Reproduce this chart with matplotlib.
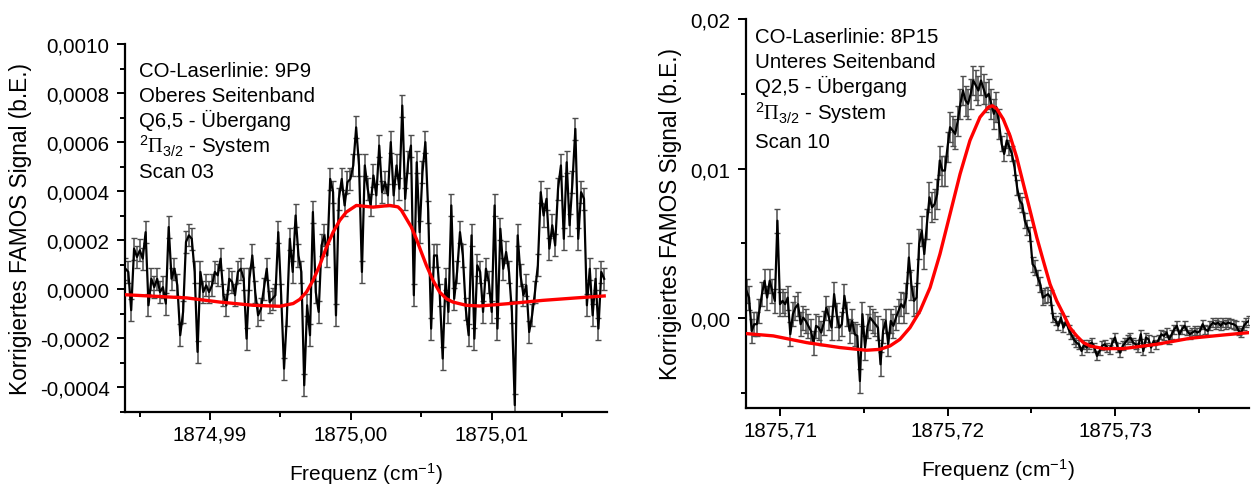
# FAMOS-Signal zweier Scans mit Fit
import numpy as np
import matplotlib
matplotlib.use('Agg')
import matplotlib.pyplot as plt
from matplotlib.ticker import MultipleLocator, FuncFormatter

plt.rcParams['font.family'] = ['Liberation Sans', 'DejaVu Sans']
plt.rcParams['mathtext.fontset'] = 'custom'
plt.rcParams['mathtext.rm'] = 'Liberation Sans'
plt.rcParams['mathtext.it'] = 'Liberation Sans:italic'
plt.rcParams['mathtext.sf'] = 'Liberation Serif'

# --- Scan 03 (links), Signal in Einheiten von 1e-4 ---
freq_left_range = (1874.9840, 1875.0180)
signal_left_e4 = [
    0.84, 0.71, -0.85, 1.66, 1.32, 1.59, 1.25, 2.33, -0.65, 0.43,
    0.09, 0.43, -0.11, 0.09, -0.58, 2.54, 0.43, 0.84, 0.16, -1.87,
    -0.92, 1.93, 2.20, 2.06, 0.71, -2.55, 0.71, -0.11, 0.16, -0.11,
    0.16, 0.71, 0.57, 1.25, -0.24, -0.65, 0.43, 0.30, -0.24, 0.71,
    0.84, 0.43, -2.01, 0.43, 1.38, -0.11, -1.06, -0.79, 0.03, 0.84,
    -0.52, -0.38, -0.24, 2.33, -0.24, -3.23, -1.06, 2.06, 0.71, 3.01,
    1.38, 0.71, -3.91, -0.65, -1.87, 3.15, -0.11, -0.92, 1.79, 2.20,
    1.38, 4.50, 3.96, -1.06, 3.69, 4.50, 3.42, 4.37, 4.50, 5.05,
    6.60,
    5.05, 0.71, 5.05, 4.10, 3.42, 4.64, 3.83, 5.86, 3.96, 4.37,
    3.83, 6.00, 3.83, 5.05, 4.10, 7.49, 3.69, 5.18, 5.86, -0.24,
    5.18, 2.33, 4.78, 6.00, 3.15, -1.60, 1.38, 1.38, -0.24, -2.82,
    0.43, -0.92, 3.42, -0.38, 0.71, 2.33, 1.38, -0.79, -1.87, 2.20,
    -2.01, 0.98, 0.71, -0.92, 0.84, 0.30, -0.92, 3.42, -1.60, 2.47,
    0.84, 1.52, 0.71, -0.92, -4.72, 2.20, 0.57, -0.24, 0.16, -1.74,
    -1.06, -0.11, 0.98, 3.96, 3.01, 3.69, 1.66, 2.61, 1.79, 4.10,
    5.05, 2.06, 5.18, 2.61, 4.37, 6.54, 2.06, 3.96, 3.69, -0.65,
    0.84, -1.06, 0.43, -1.60, 0.71, 0.43,
]
err_left = 0.45e-4

fit_left_freq = [
    1874.98397, 1874.98835, 1874.99071, 1874.99307, 1874.99496, 1874.99591,
    1874.99638, 1874.99686, 1874.99733, 1874.99780, 1874.99828, 1874.99875,
    1874.99922, 1874.99969, 1875.00040, 1875.00158, 1875.00277, 1875.00336,
    1875.00360, 1875.00395, 1875.00430, 1875.00466, 1875.00501, 1875.00537,
    1875.00584, 1875.00631, 1875.00679, 1875.00726, 1875.00820, 1875.00915,
    1875.01128, 1875.01364, 1875.01600, 1875.01800,
]
fit_left_e4 = [
    -0.22, -0.35, -0.52, -0.65, -0.69, -0.58,
    -0.41, -0.11, 0.37, 0.98, 1.72, 2.33,
    2.81, 3.15, 3.42, 3.35, 3.42, 3.36,
    3.22, 2.88, 2.54, 2.06, 1.52, 0.98,
    0.37, -0.11, -0.38, -0.52, -0.65, -0.68,
    -0.58, -0.45, -0.35, -0.27,
]

# --- Scan 10 (rechts), Signal in Einheiten von 1e-3 ---
freq_right_range = (1875.7080, 1875.7380)
signal_right_e3 = [
    1.83, 1.38, -0.85, -0.40, -0.40, 0.49, 1.61, 2.50, 1.38, 2.50,
    1.83, 1.16, 6.52,
    0.94, 1.16, 0.94, 1.38, -1.07, 0.27, 0.71, 0.94, -0.40, 0.04,
    -0.18, -0.51, -0.85, -1.63, -0.51, -0.63, -0.96, -0.29, 0.71, 0.04,
    -0.63, 1.61, 0.20, -0.63, -0.40, 1.50, 0.27, -0.85, -0.18, -1.07,
    -1.18, -4.20,
    0.27, -1.96, -0.50, 0.04, -0.18, -0.40, -0.63, -3.08, -0.85, -0.18,
    -1.74, -0.18, -0.51, 0.04, 0.49, 0.94, 0.71, 1.38, 4.06, 2.20,
    1.16, 1.38, 4.96, 5.85, 4.29, 6.29, 8.08, 7.41, 7.63, 8.30,
    10.54, 9.87, 9.87, 11.43, 12.77, 12.54, 12.32, 13.21, 14.33, 15.22,
    14.55, 14.33, 15.00, 15.89, 15.56, 15.22, 15.89, 15.33, 14.78, 15.00,
    14.33, 13.66, 14.11, 12.99,
    11.65, 10.98, 11.88, 11.43, 10.98, 10.09, 8.75, 7.86, 7.63, 6.52,
    6.07, 5.63, 3.62, 3.39, 2.72, 2.28, 1.38, 1.50, 1.61, 1.38,
    0.04, -0.18, -0.51, 0.04, -0.63, -0.18, -0.74, -1.07, -1.41, -1.63,
    -1.74, -2.19, -1.74, -1.96, -1.74, -1.63, -1.96, -2.52, -2.19,
    -1.85, -1.74, -1.96, -2.08, -1.63, -1.29, -1.96, -2.30, -1.85,
    -1.63, -1.41, -1.29, -1.63, -1.74, -1.96, -1.07, -2.19, -1.29, -1.41,
    -1.96, -1.52, -1.74, -1.41, -1.07, -1.18, -0.96, -1.41, -1.07,
    -0.74, -0.51, -1.07, -0.74, -0.51, -0.85, -1.07, -0.96, -0.85, -0.96,
    -0.85, -0.40, -0.74, -0.85, -0.51, -0.29, -0.40, -0.29, -0.51, -0.29,
    -0.40, -0.29, -0.36, -0.40, -0.51, -0.85, -0.96, -0.51, -0.29, -0.18,
]
err_right_e3 = [0.8] * 61 + [1.0] * 38 + [0.5] * 20 + [0.3] * 77

fit_right_freq = [
    1875.70801, 1875.70960, 1875.71159, 1875.71358, 1875.71517, 1875.71597,
    1875.71657, 1875.71716, 1875.71776, 1875.71836, 1875.71896, 1875.71955,
    1875.72015, 1875.72075, 1875.72134, 1875.72194, 1875.72244, 1875.72268,
    1875.72294, 1875.72333, 1875.72373, 1875.72413, 1875.72453, 1875.72493,
    1875.72533, 1875.72572, 1875.72612, 1875.72652, 1875.72692, 1875.72731,
    1875.72771, 1875.72811, 1875.72851, 1875.72930, 1875.73050, 1875.73249,
    1875.73448, 1875.73647, 1875.73802,
]
fit_right_e3 = [
    -1.03, -1.18, -1.63, -1.96, -2.14, -2.08,
    -1.85, -1.41, -0.63, 0.49, 2.05, 4.29,
    6.96, 9.64, 11.88, 13.44, 14.11, 14.20,
    14.00, 13.30, 12.20, 10.76, 8.97, 7.19,
    5.40, 3.84, 2.28, 1.16, 0.27, -0.63,
    -1.18, -1.63, -1.85, -2.03, -2.03, -1.74,
    -1.34, -1.12, -0.96,
]

text_left = ['CO-Laserlinie: 9P9', 'Oberes Seitenband', 'Q6,5 - Übergang',
             r'$^{2}\mathsf{\Pi}_{3/2}$ - System', 'Scan 03']
text_right = ['CO-Laserlinie: 8P15', 'Unteres Seitenband', 'Q2,5 - Übergang',
              r'$^{2}\mathsf{\Pi}_{3/2}$ - System', 'Scan 10']

W, H = 1253, 489


def comma_fmt(decimals):
    def f(v, pos):
        if abs(v) < 1e-12:
            v = 0.0
        return f'{v:.{decimals}f}'.replace('.', ',')
    return FuncFormatter(f)


def style_axes(ax):
    for s in ['top', 'right']:
        ax.spines[s].set_visible(False)
    for s in ['left', 'bottom']:
        ax.spines[s].set_linewidth(1.6)
    ax.tick_params(which='both', direction='out', width=1.4, labelsize=14.8)
    ax.tick_params(axis='x', pad=3)
    ax.tick_params(axis='y', pad=5)
    ax.tick_params(which='major', length=6)
    ax.tick_params(which='minor', length=3.5)
    ax.set_xlabel('Frequenz (cm$^{-1}$)', fontsize=15, labelpad=12)
    ax.set_ylabel('Korrigiertes FAMOS Signal (b.E.)', fontsize=16.3, labelpad=6)


def plot_scan(ax, freq, sig, err, fx, fy):
    eb = ax.errorbar(freq, sig, yerr=err, fmt='none', ecolor='0.3',
                     elinewidth=1.1, capsize=2.5, capthick=1.0, zorder=1)
    for cl in eb[1]:
        cl.set_color('black')
    ax.plot(freq, sig, color='black', lw=1.6, zorder=2)
    ax.plot(fx, fy, color='red', lw=2.4, zorder=3)


def put_text(ax, lines, x_px, baselines_px, box):
    # box = (links, unten, breite, hoehe) in Pixeln von oben links
    l, b, w, h = box
    for line, yb in zip(lines, baselines_px):
        ax.text((x_px - l) / w, (b - yb) / h, line, transform=ax.transAxes,
                fontsize=14.7, ha='left', va='baseline')


fig = plt.figure(figsize=(W / 100, H / 100), dpi=100)

# linke Achse: Pixel 125..607 x 45..413
ax1 = fig.add_axes([125 / W, 1 - 413 / H, 482 / W, 368 / H])
freq_left = np.linspace(freq_left_range[0], freq_left_range[1], len(signal_left_e4))
sig_left = np.array(signal_left_e4) * 1e-4
plot_scan(ax1, freq_left, sig_left, err_left,
          fit_left_freq, np.array(fit_left_e4) * 1e-4)
ax1.set_xlim(1874.98397, 1875.0182)
ax1.set_ylim(-0.0005, 0.0010)
ax1.xaxis.set_major_locator(MultipleLocator(0.01))
ax1.xaxis.set_minor_locator(MultipleLocator(0.005))
ax1.yaxis.set_major_locator(MultipleLocator(0.0002))
ax1.yaxis.set_minor_locator(MultipleLocator(0.0001))
ax1.xaxis.set_major_formatter(comma_fmt(2))
ax1.yaxis.set_major_formatter(comma_fmt(4))
style_axes(ax1)
put_text(ax1, text_left, 139, [77.3, 102.5, 127.5, 152.7, 178.3],
         (125, 413, 482, 368))

# rechte Achse: Pixel 746..1249 x 20..409
ax2 = fig.add_axes([746 / W, 1 - 409 / H, 503 / W, 389 / H])
freq_right = np.linspace(freq_right_range[0], freq_right_range[1], len(signal_right_e3))
sig_right = np.array(signal_right_e3) * 1e-3
plot_scan(ax2, freq_right, sig_right, np.array(err_right_e3) * 1e-3,
          fit_right_freq, np.array(fit_right_e3) * 1e-3)
ax2.set_xlim(1875.70797, 1875.7380)
ax2.set_ylim(-0.006, 0.02)
ax2.xaxis.set_major_locator(MultipleLocator(0.01))
ax2.xaxis.set_minor_locator(MultipleLocator(0.005))
ax2.yaxis.set_major_locator(MultipleLocator(0.01))
ax2.yaxis.set_minor_locator(MultipleLocator(0.005))
ax2.xaxis.set_major_formatter(comma_fmt(2))
ax2.yaxis.set_major_formatter(comma_fmt(2))
style_axes(ax2)
put_text(ax2, text_right, 755, [42.7, 67.7, 92.7, 120.0, 148.3],
         (746, 409, 503, 389))

fig.savefig('out.png', dpi=100)
